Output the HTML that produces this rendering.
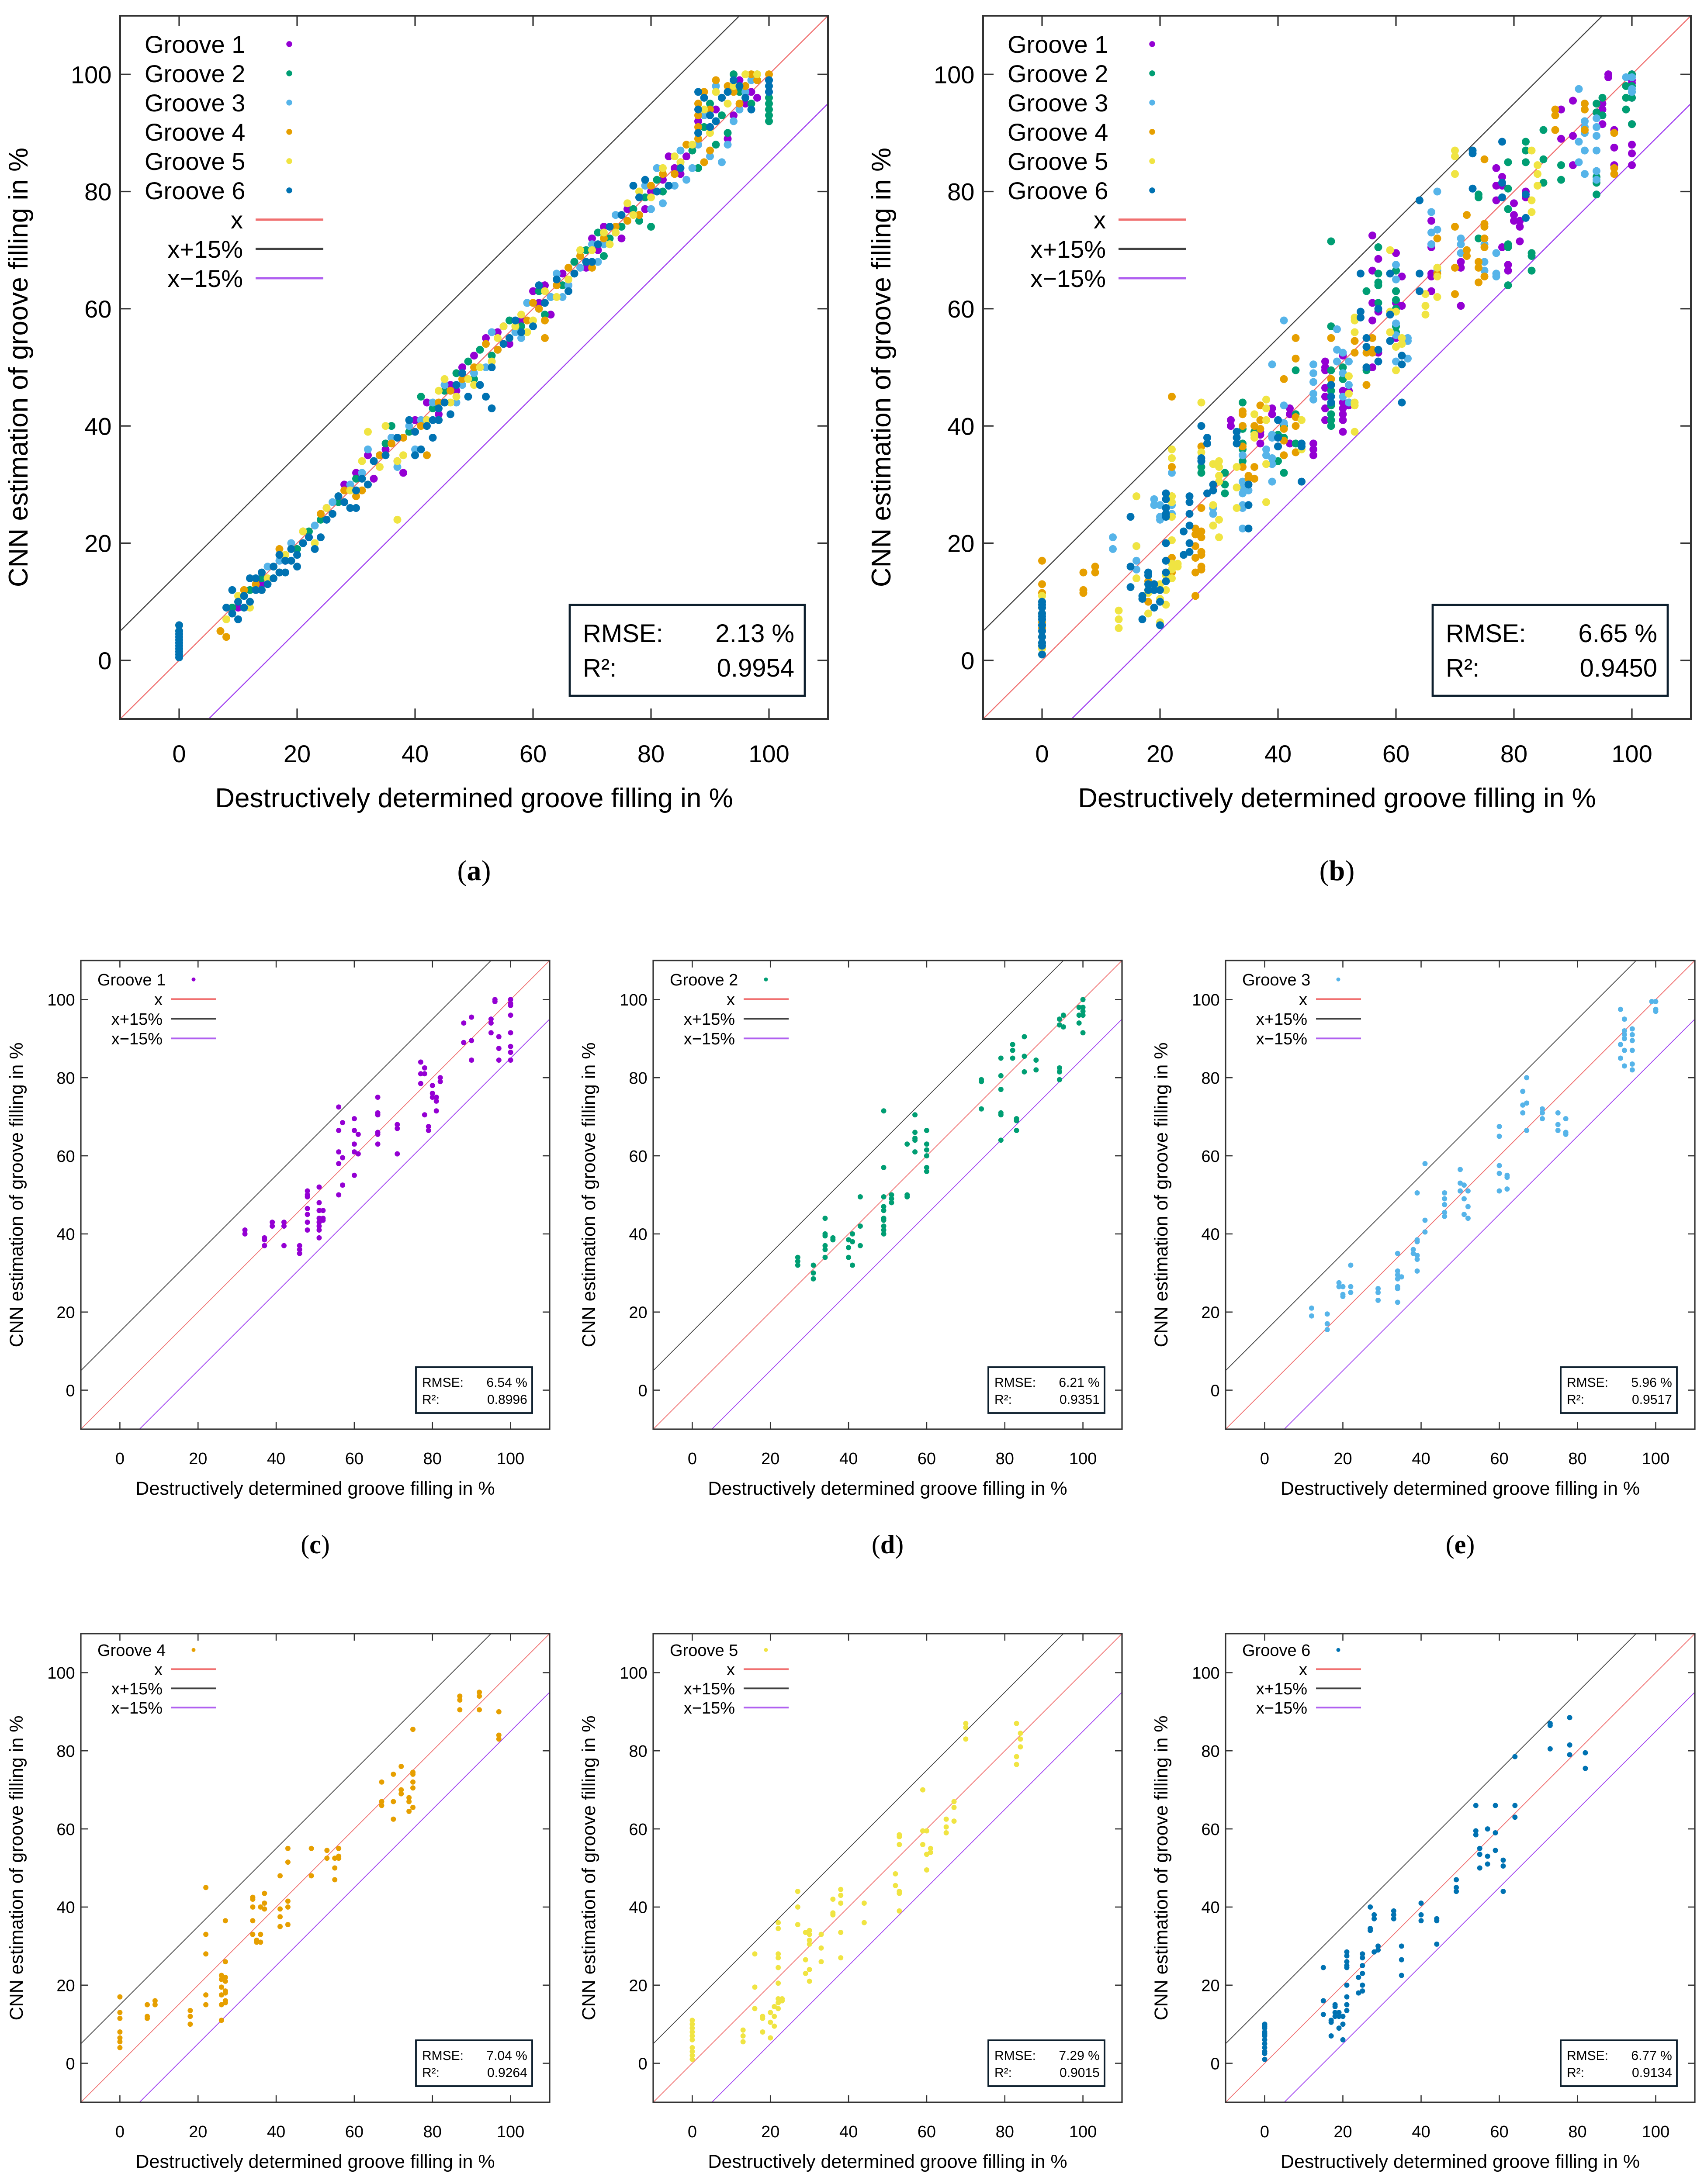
<!DOCTYPE html>
<html><head><meta charset="utf-8">
<style>
html,body{margin:0;padding:0;background:#fff;overflow:hidden;width:3900px;height:5120px;}
svg{display:block;}
text{font-family:"Liberation Sans","DejaVu Sans",sans-serif;fill:#000;}
</style></head>
<body>
<svg id="fig" xmlns="http://www.w3.org/2000/svg" width="3900" height="5120" viewBox="0 0 3900 5120"></svg>
<script>
// ---------- data: panel (a) (estimates of dense band) ----------
const denseG1=[[10,9],[14,13],[18,17],[22,21],[25,26],[28,30],[30,32],[32,35],[33,31],[35,36],[37,34],[38,32],[40,41],[42,44],[44,42],[46,47],[48,50],[50,52],[52,55],[53,51],[55,57],[56,54],[58,58],[60,63],[62,64],[63,59],[65,66],[67,68],[69,67],[70,72],[72,74],[74,73],[76,77],[78,76],[80,80],[82,82],[84,84],[86,86],[88,92],[90,91],[92,96],[93,89],[95,99],[97,97],[100,99],[100,97],[94,93],[91,94],[36,38],[47,46],[54,56],[61,61],[66,64],[71,70],[75,72],[79,77],[83,86],[85,83],[96,95],[98,96]];
const denseG2=[[9,9],[12,12],[16,16],[20,19],[24,24],[27,27],[30,31],[33,34],[35,37],[36,40],[39,39],[41,45],[43,43],[45,46],[47,49],[49,51],[51,53],[53,52],[56,58],[59,61],[61,63],[63,62],[65,64],[67,68],[69,70],[71,73],[73,72],[75,74],[77,77],[79,79],[81,82],[83,81],[85,85],[87,87],[89,91],[91,88],[92,93],[94,100],[96,98],[98,99],[100,95],[100,92],[100,93],[97,95],[93,90],[88,84],[80,74],[82,80],[100,94],[100,96],[95,97],[90,95],[44,41],[50,48],[58,57],[62,59],[72,69],[78,75],[14,14],[22,22]];
const denseG3=[[11,11],[15,16],[19,20],[23,23],[26,27],[29,30],[31,32],[32,36],[34,35],[36,38],[37,33],[39,40],[41,41],[43,44],[45,47],[48,47],[50,49],[52,50],[54,53],[57,56],[59,61],[61,60],[63,62],[64,66],[66,64],[68,67],[70,71],[72,71],[74,76],[76,75],[78,79],[80,77],[82,78],[84,81],[86,82],[88,88],[90,86],[92,85],[94,92],[96,97],[98,100],[100,97],[100,99],[89,93],[91,98],[85,87],[87,84],[93,88],[95,94],[97,99],[40,36],[47,44],[53,56],[58,55],[65,62],[71,68],[79,81],[81,84],[17,17],[27,28]];
const denseG4=[[7,5],[8,4],[9,8],[13,13],[17,19],[17,15],[21,22],[24,25],[26,25],[28,29],[30,28],[34,35],[36,37],[38,38],[41,40],[42,35],[44,44],[46,46],[48,48],[50,50],[52,54],[54,53],[57,57],[59,58],[61,60],[62,58],[64,64],[66,67],[68,69],[70,67],[72,72],[74,74],[76,75],[78,76],[80,81],[82,83],[84,83],[86,88],[88,93],[88,89],[90,94],[92,96],[94,97],[96,98],[98,99],[100,100],[89,85],[90,87],[88,91],[88,95],[89,97],[91,99],[93,98],[95,95],[97,100],[62,55],[60,61],[56,55],[31,29],[19,19],[11,12],[14,12]];
const denseG5=[[0,6],[0,5],[8,7],[10,11],[12,9],[15,14],[18,18],[21,22],[23,20],[25,26],[27,28],[29,29],[31,34],[32,30],[34,33],[35,40],[37,34],[38,35],[40,39],[42,41],[44,46],[46,44],[47,45],[49,48],[51,50],[53,51],[55,57],[57,57],[58,59],[60,58],[62,63],[64,62],[66,65],[68,70],[70,70],[72,73],[74,73],[76,78],[78,80],[80,79],[82,84],[85,85],[87,88],[89,94],[91,97],[93,95],[96,100],[98,100],[37,24],[32,39],[45,48],[50,47],[54,55],[59,56],[67,66],[73,71],[77,76],[84,86],[90,90],[94,98]];
const denseG6=[[0,6],[0,5],[0,4.5],[0,4],[0,3.5],[0,3],[0,2.5],[0,2],[0,1.5],[0,1],[0,0.5],[8,9],[9,8],[9,12],[10,10],[11,11],[12,14],[13,12],[14,15],[15,13],[16,16],[17,18],[18,17],[18,15],[19,19],[20,18],[21,20],[22,21],[23,19],[24,21],[25,24],[26,25],[27,28],[28,27],[29,26],[30,29],[31,31],[32,30],[33,34],[35,35],[37,38],[39,41],[40,39],[42,40],[43,41],[44,43],[46,42],[48,49],[49,45],[51,47],[53,50],[55,54],[56,55],[58,56],[60,57],[62,61],[64,65],[66,63],[69,68],[71,71],[73,74],[75,76],[77,81],[79,82],[81,80],[83,81],[85,84],[88,94],[88,97],[90,91],[92,96],[94,99],[95,98],[97,94],[100,98],[100,99],[93,97],[90,93],[16,14],[14,12],[12,10],[19,17],[10,7],[30,26],[40,35],[43,38],[52,45],[53,43],[41,36],[44,41],[88,90],[89,96],[91,92],[96,96],[100,97],[11,9],[13,14],[17,15],[20,16],[45,44],[47,47],[57,58],[61,64],[67,66],[70,68],[78,79]];

// ---------- data: per-groove validation (panels c-h, combined in b) ----------
const groove1=[[32,41],[32,40],[37,39],[37,38.5],[37,37],[39,43],[39,42],[42,43],[42,42],[42,37],[46,37],[46,36],[46,35],[48,51],[48,50],[48,49.5],[48,46.5],[48,45],[48,43],[48,41],[51,52],[51,48],[51,46],[51,44],[51,43],[51,42],[51,41],[51,39],[52,46],[52,44],[52,43.5],[56,72.5],[56,66.5],[56,61],[56,58],[56,50],[57,68.5],[57,59.5],[57,52.5],[60,69.5],[60,66.5],[60,63],[60,61],[60,55],[61,65.5],[61,60.5],[66,75],[66,71],[66,70.5],[66,66],[66,65.5],[66,63],[71,68],[71,67],[71,60.5],[77,84],[77,81],[77,78.5],[78,82.5],[78,81],[78,70.5],[79,67.5],[79,66.5],[80,78],[80,76],[80,75],[81,75],[81,74],[81,71.5],[82,80],[82,79],[88,94],[88,89],[90,95.5],[90,89.5],[90,84.5],[95,95],[95,94],[95,91.5],[96,100],[96,99.5],[97,90.5],[97,87.5],[97,84.5],[100,100],[100,99],[100,98.5],[100,96],[100,91.5],[100,88],[100,86.5],[100,84.5]];
const groove2=[[27,34],[27,33],[27,32],[31,32],[31,30],[31,28.5],[34,44],[34,40],[34,39.5],[34,37],[34,36],[34,34],[36,39],[36,38.5],[40,38.5],[40,36.5],[40,34],[41,40],[41,38],[41,32],[43,49.5],[43,42],[43,37],[49,71.5],[49,57],[49,49.5],[49,47],[49,46],[49,44],[49,43.5],[49,42],[49,41],[49,40],[51,50],[51,49],[51,48],[55,50],[55,49.5],[55,63],[57,70.5],[57,66],[57,64.5],[57,64],[57,61],[60,66.5],[60,63],[60,61.5],[60,60],[60,57],[60,56],[74,79.5],[74,79],[74,72],[79,85],[79,80.5],[79,77],[79,71],[79,70.5],[79,64],[82,88.5],[82,87],[82,85],[83,69.5],[83,69],[83,66.5],[85,90.5],[85,85.5],[85,81.5],[88,84.5],[88,82],[94,95],[94,93.5],[94,82.5],[94,81.5],[94,79.5],[95,96],[95,93],[99,98],[99,96],[99,94],[100,100],[100,98],[100,97],[100,96],[100,91.5]];
const groove3=[[12,21],[12,19],[16,19.5],[16,17],[16,15.5],[19,27.5],[19,26.5],[20,26.5],[20,24.5],[20,24],[22,32],[22,26.5],[22,25],[29,26],[29,25],[29,23],[34,35],[34,30.5],[34,29.5],[34,28.5],[34,26.5],[34,26],[34,22.5],[35,29],[38,36],[38,35],[39,38.5],[39,38],[39,34.5],[39,33.5],[39,30.5],[39,50.5],[41,58],[41,43.5],[41,40.5],[46,50.5],[46,49],[46,47.5],[46,45.5],[46,44.5],[50,56.5],[50,53],[50,51],[51,52.5],[51,49],[51,45],[52,51],[52,47],[52,44],[60,67.5],[60,65],[60,57.5],[60,55.5],[60,51],[62,55],[62,54.5],[62,51.5],[66,76.5],[66,73],[66,71],[67,80],[67,73.5],[67,66.5],[71,72],[71,71],[71,69.5],[75,71],[75,68],[75,66.5],[77,69.5],[77,66],[77,65.5],[91,97.5],[91,88.5],[91,85],[92,95],[92,92],[92,91],[92,90],[92,87],[92,83],[94,92.5],[94,91],[94,89.5],[94,87],[94,83.5],[94,82],[99,99.5],[100,99.5],[100,97.5],[100,97]];
const groove4=[[0,17],[0,13],[0,11.5],[0,8],[0,6.5],[0,5.5],[0,4],[7,15],[7,12],[7,11.5],[9,16],[9,15],[18,13.5],[18,12],[18,10],[22,45],[22,33],[22,28],[22,17.5],[22,15],[26,22.5],[26,21.5],[26,19.5],[26,17.5],[26,15],[26,11],[27,36.5],[27,26],[27,22],[27,21],[27,18.5],[27,18],[27,16],[27,15.5],[34,42.5],[34,42],[34,40],[34,36.5],[34,33],[35,31.5],[35,31],[36,40],[36,33],[36,31],[37,43.5],[37,41],[37,39.5],[41,48],[41,39.5],[41,37.5],[41,35],[43,55],[43,51.5],[43,41.5],[43,40],[43,35.5],[49,55],[49,48],[53,54.5],[53,52.5],[55,52.5],[55,50],[55,47],[56,55],[56,53],[56,52.5],[67,72],[67,67],[67,66],[70,74],[70,67],[70,62.5],[72,76],[72,70],[72,69],[74,68],[74,67],[74,64.5],[75,85.5],[75,74.5],[75,74],[75,72],[75,70.5],[75,65.5],[87,94],[87,93],[87,90.5],[92,95],[92,94],[92,90.5],[97,90],[97,84],[97,83]];
const groove5=[[0,11],[0,10],[0,9],[0,8],[0,7],[0,6],[0,4],[0,3],[0,2],[0,1],[13,8.5],[13,7],[13,5.5],[16,28],[16,19.5],[16,14],[18,12],[18,11.5],[18,8],[20,13],[20,10.5],[20,6.5],[21,14.5],[21,12],[21,9.5],[22,36],[22,34.5],[22,28],[22,27],[22,24.5],[22,20.5],[22,16.5],[22,15.5],[22,14],[23,16.5],[23,16],[27,44],[27,40],[27,35.5],[29,33.5],[29,26.5],[29,23],[30,34],[30,33],[30,31.5],[30,30.5],[30,24],[30,21],[33,33],[33,29.5],[33,26],[36,42],[36,38.5],[36,38],[38,44.5],[38,43],[38,41],[38,33.5],[38,27],[44,41],[44,36],[52,48.5],[52,45.5],[53,58.5],[53,58],[53,56],[53,44],[53,43.5],[53,39],[59,70],[59,59.5],[59,56],[60,59.5],[60,53.5],[60,49.5],[61,55],[61,54],[65,62.5],[65,60.5],[65,59],[67,67],[67,65.5],[67,62],[70,87],[70,86],[70,83],[83,87],[83,78.5],[83,76.5],[84,84.5],[84,83],[84,81]];
const groove6=[[0,10],[0,9.5],[0,9],[0,8],[0,7.5],[0,7],[0,6],[0,5],[0,4],[0,3],[0,2.5],[0,1],[15,24.5],[15,16],[15,12.5],[17,11],[17,10.5],[17,7],[18,15],[18,14.5],[18,13],[18,12],[19,13],[19,12],[19,9],[20,12],[20,10],[20,6],[21,28.5],[21,27.5],[21,26],[21,25],[21,24.5],[21,20],[21,17],[21,15],[21,13.5],[24,22],[24,18],[25,28],[25,27],[25,25],[25,23],[25,20],[25,18.5],[27,40],[27,34.5],[27,34],[28,38],[28,37],[28,28.5],[29,30],[29,29],[33,39],[33,38],[33,37],[35,30],[35,26.5],[35,22.5],[40,41],[40,38],[40,36.5],[44,37],[44,36.5],[44,30.5],[49,47],[49,45],[49,44],[54,66],[54,59.5],[54,58.5],[55,55],[55,53.5],[55,50],[57,60],[57,53],[57,51],[59,66],[59,59],[59,54.5],[61,52],[61,50.5],[61,44],[64,78.5],[64,66],[64,63],[73,87],[73,86.5],[73,80.5],[78,88.5],[78,81.5],[78,79],[82,79.5],[82,75.5]];

const grooveNames=["Groove 1","Groove 2","Groove 3","Groove 4","Groove 5","Groove 6"];
const grooveColors=["#9400d3","#009e73","#56b4e9","#e69f00","#f0e442","#0072b2"];
const tickValues=[0,20,40,60,80,100];
const axisMin=-10, axisMax=110;
const rmseVals=["2.13 %","6.65 %","6.54 %","6.21 %","5.96 %","7.04 %","7.29 %","6.77 %"];
const r2Vals=["0.9954","0.9450","0.8996","0.9351","0.9517","0.9264","0.9015","0.9134"];

const NS="http://www.w3.org/2000/svg";
const svg=document.getElementById('fig');
function mk(tag,attrs,parent){const e=document.createElementNS(NS,tag);for(const k in attrs)e.setAttribute(k,attrs[k]);(parent||svg).appendChild(e);return e;}

function panel(o){
  const g=mk('g',{});
  
  
  const sx=v=>o.l+(v-axisMin)/(axisMax-axisMin)*(o.r-o.l);
  const sy=v=>o.b-(v-axisMin)/(axisMax-axisMin)*(o.b-o.t);
  const cid='clip-'+o.id;
  const cp=mk('clipPath',{id:cid},g);
  mk('rect',{x:o.l,y:o.t,width:o.r-o.l,height:o.b-o.t},cp);
  const lines=[[0,'#f07070','line-x'],[15,'#404040','line-x-plus-15'],[-15,'#a040f0','line-x-minus-15']];
  for(const [off,col,nm] of lines){
    const ln=mk('line',{x1:sx(axisMin),y1:sy(axisMin+off),x2:sx(axisMax),y2:sy(axisMax+off),stroke:col,'stroke-width':o.lw,'clip-path':'url(#'+cid+')'},g);
    
    
  }
  for(const t of tickValues){
    for(const [y1,y2] of [[o.b,o.b-o.tl],[o.t,o.t+o.tl]]) mk('line',{x1:sx(t),x2:sx(t),y1:y1,y2:y2,stroke:'#333','stroke-width':o.aw*0.8},g);
    for(const [x1,x2] of [[o.l,o.l+o.tl],[o.r,o.r-o.tl]]) mk('line',{y1:sy(t),y2:sy(t),x1:x1,x2:x2,stroke:'#333','stroke-width':o.aw*0.8},g);
    const xl=mk('text',{x:sx(t),y:o.b+o.tickDy,'font-size':o.fs,'text-anchor':'middle'},g);
    xl.textContent=t;
    
    
    const yl=mk('text',{x:o.l-o.fs*0.35,y:sy(t)+o.fs*0.36,'font-size':o.fs,'text-anchor':'end'},g);
    yl.textContent=t;
    
    
  }
  const pg=mk('g',{},g);
  
  
  for(const s of o.series){
    for(const p of s.data){
      const c=mk('circle',{cx:sx(p[0]),cy:sy(p[1]),r:o.pr,fill:grooveColors[s.ci]},pg);
      
      
    }
  }
  const fr=mk('rect',{x:o.l,y:o.t,width:o.r-o.l,height:o.b-o.t,fill:'none',stroke:'#333','stroke-width':o.aw},g);
  
  
  const lg=mk('g',{},g);
  
  
  let y=o.t+o.lgTop;
  for(const s of o.series){
    const tx=mk('text',{x:o.l+o.lgTextX,y:y,'font-size':o.lfs},lg);
    tx.textContent=grooveNames[s.ci];
    
    
    mk('circle',{cx:o.l+o.lgMarkX,cy:y-o.lfs*0.36,r:o.pr*0.75,fill:grooveColors[s.ci]},lg);
    y+=o.lgStep;
  }
  const lnames=[['x','#f07070'],['x+15%','#404040'],['x\u221215%','#b060f0']];
  for(const [nm,col] of lnames){
    const tx=mk('text',{x:o.l+o.lgRight,y:y,'font-size':o.lfs,'text-anchor':'end'},lg);
    tx.textContent=nm;
    
    
    mk('line',{x1:o.l+o.lgLine0,x2:o.l+o.lgLine1,y1:y-o.lfs*0.36,y2:y-o.lfs*0.36,stroke:col,'stroke-width':o.lw*2.2},lg);
    y+=o.lgStep;
  }
  const sb=mk('g',{},g);
  
  
  mk('rect',{x:o.l+o.sbx,y:o.b-o.sbyb,width:o.sbw,height:o.sbh,fill:'#fff',stroke:'#0d1f2d','stroke-width':o.aw*1.2},sb);
  const t1=mk('text',{x:o.l+o.sbx+o.sbpad,y:o.b-o.sbyb+o.sbl1,'font-size':o.sfs},sb);t1.textContent='RMSE:';
  const v1=mk('text',{x:o.l+o.sbx+o.sbw-o.sbpad*0.8,y:o.b-o.sbyb+o.sbl1,'font-size':o.sfs,'text-anchor':'end'},sb);v1.textContent=rmseVals[o.si];
  const t2=mk('text',{x:o.l+o.sbx+o.sbpad,y:o.b-o.sbyb+o.sbl2,'font-size':o.sfs},sb);t2.textContent='R²:';
  const v2=mk('text',{x:o.l+o.sbx+o.sbw-o.sbpad*0.8,y:o.b-o.sbyb+o.sbl2,'font-size':o.sfs,'text-anchor':'end'},sb);v2.textContent=r2Vals[o.si];
  const xt=mk('text',{x:(o.l+o.r)/2,y:o.b+o.xtDy,'font-size':o.tfs,'text-anchor':'middle'},g);
  xt.textContent='Destructively determined groove filling in %';
  
  
  const yc=(o.t+o.b)/2;
  const yt=mk('text',{x:0,y:0,'font-size':o.tfs,'text-anchor':'middle',transform:'translate('+(o.l+o.ytDx)+','+yc+') rotate(-90)'},g);
  yt.textContent='CNN estimation of groove filling in %';
  
  
  const cap=mk('text',{x:(o.l+o.r)/2,y:o.b+o.capDy,'font-size':o.cfs,'text-anchor':'middle',style:'font-family:"Liberation Serif",serif'},g);
  cap.innerHTML='(<tspan font-weight="bold">'+o.id+'</tspan>)';
  
  
}

const big={t:36,b:1646,pr:9,lw:2.4,aw:4,tl:24,fs:56,lfs:56,tfs:62,sfs:58,cfs:66,tickDy:99,xtDy:202,ytDx:-212,capDy:369,
  lgTop:85,lgTextX:56,lgMarkX:387,lgStep:67,lgRight:281,lgLine0:310,lgLine1:465,
  sbx:1029,sbyb:261,sbw:538,sbh:208,sbpad:30,sbl1:85,sbl2:164};
const allSeries=[groove1,groove2,groove3,groove4,groove5,groove6].map((d,i)=>({data:d,ci:i}));
panel(Object.assign({},big,{id:'a',l:275,r:1895,si:0,series:[denseG1,denseG2,denseG3,denseG4,denseG5,denseG6].map((d,i)=>({data:d,ci:i}))}));
panel(Object.assign({},big,{id:'b',l:2250,r:3870,si:1,series:allSeries}));

const small={pr:6,lw:1.8,aw:3.2,tl:16,fs:38,lfs:38,tfs:43,sfs:30,cfs:60,tickDy:80,xtDy:150,ytDx:-133,capDy:284,
  lgTop:57,lgTextX:38,lgMarkX:258,lgStep:45,lgRight:187,lgLine0:207,lgLine1:310,
  sbx:767,sbyb:142,sbw:266,sbh:105,sbpad:14,sbl1:45,sbl2:84};
const cols=[[185,1258],[1495,2568],[2805,3879]];
const rows=[[2199,3272],[3740,4813]];
const ids=['c','d','e','f','g','h'];
for(let i=0;i<6;i++){
  const [l,r]=cols[i%3];const [t,b]=rows[Math.floor(i/3)];
  const extra=Math.floor(i/3)===1?{lgTop:51,lgStep:44,capDy:272}:{};
  panel(Object.assign({},small,extra,{id:ids[i],l:l,r:r,t:t,b:b,si:i+2,series:[allSeries[i]]}));
}
</script>
</body></html>
